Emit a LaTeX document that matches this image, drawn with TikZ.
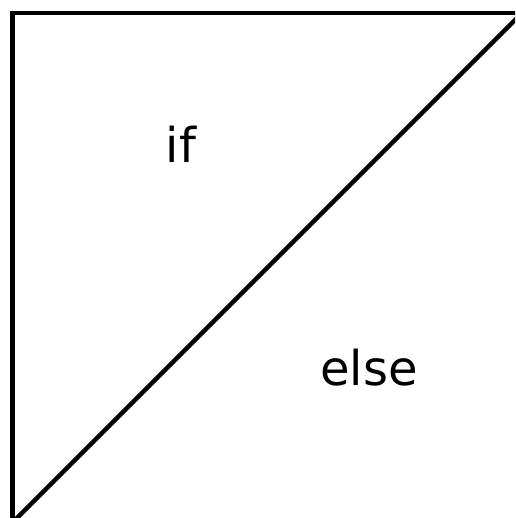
\documentclass[tikz,border=0pt]{standalone}
\usepackage{fontspec}
\setmainfont{DejaVu Sans}
\begin{document}
\begin{tikzpicture}[x=1pt,y=-1pt,
  edge/.style={line width=4.5pt,line cap=butt},
  lbl/.style={font=\fontsize{48}{56}\selectfont,anchor=base,inner sep=0pt}]
\useasboundingbox (0,0) rectangle (515,518);
\clip (0,0) rectangle (515,518);
\fill[white] (0,0) rectangle (515,518);
\coordinate (tl) at (12.5,13);
\coordinate (tr) at (530,13);
\coordinate (bl) at (12.5,530);
\coordinate (d1) at (527,8);
\coordinate (d2) at (5,530);
\draw[edge] (10.25,13) -- (tr);
\draw[edge] (tl) -- (bl);
\draw[edge] (d1) -- (d2);
\node[lbl] (if) at (181,163) {if};
\node[lbl] (else) at (369,385) {else};
\end{tikzpicture}
\end{document}
